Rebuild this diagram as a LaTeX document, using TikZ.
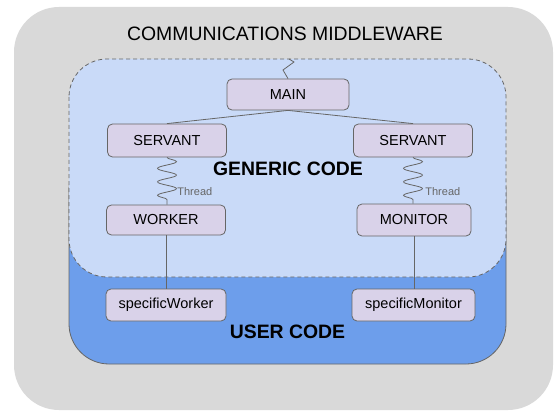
\documentclass[tikz,border=0pt]{standalone}
\usepackage{fontspec}
\setmainfont{Liberation Sans}
\usetikzlibrary{decorations.pathmorphing}
\definecolor{mwgray}{HTML}{D9D9D9}
\definecolor{genblue}{HTML}{C9DAF8}
\definecolor{userblue}{HTML}{6D9EEB}
\definecolor{boxfill}{HTML}{D9D2E9}
\definecolor{edge}{HTML}{666666}

\begin{document}
\begin{tikzpicture}[x=1pt,y=-1pt,line width=0.8pt,
box/.style ={rectangle, draw=edge, fill=boxfill, align=center, rounded corners=5pt, minimum width=119pt, minimum height=32pt, inner sep=0pt, font=\fontsize{14.5}{16}\selectfont},
thr/.style={text=edge, inner sep=0pt, font=\fontsize{11}{13}\selectfont},
area/.style={font=\bfseries\fontsize{19.4}{22}\selectfont, inner sep=0pt},
wave/.style={draw=edge, decorate, decoration={snake, segment length=13.5pt, amplitude=9.5pt}}]

\useasboundingbox (0,0) rectangle (555,412);

% containers
\fill[mwgray, rounded corners=45pt] (14,7) rectangle (553,410);
\draw[edge, fill=userblue, rounded corners=40pt] (69,150) rectangle (506,364);
\draw[edge, fill=genblue, dash pattern=on 4pt off 3pt, rounded corners=38pt] (69,59) rectangle (506,277);

\draw (285,34) node[inner sep=0pt, font=\fontsize{19.4}{22}\selectfont] (Title) {COMMUNICATIONS MIDDLEWARE};
\draw (288,168.5) node[area] (Gen) {GENERIC CODE};
\draw (287.5,332) node[area] (User) {USER CODE};

\draw (288,94.5) node[box, minimum width=122pt, minimum height=31pt] (Main) {MAIN};
\draw (167,140.5) node[box, minimum height=33pt] (SL) {SERVANT};
\draw (413,140.5) node[box, minimum height=33pt] (SR) {SERVANT};
\draw (166,220) node[box, minimum height=30pt] (Wk) {WORKER};
\draw (414,220) node[box, minimum width=114pt] (Mon) {MONITOR};
\draw (166,305) node[box, minimum width=120pt] (SWk) {specificWorker};
\draw (413.5,305) node[box, minimum width=123pt] (SMon) {specificMonitor};
\draw (177,192) node[thr, anchor=west] (T1) {Thread};
\draw (425,192) node[thr, anchor=west] (T2) {Thread};
\coordinate (Top) at (289,59);

\draw[edge] (Top) -- ++(5,3) -- ++(-11,8) -- (Main.north);
\draw[edge] (Main.south) -- (SL.north);
\draw[edge] (Main.south) -- (SR.north);
\draw[wave] (SL.south) -- (SL.south |- Wk.north);
\draw[wave] (SR.south) -- (SR.south |- Mon.north);
\draw[edge] (Wk.south) -- (SWk.north);
\draw[edge] (Mon.south) -- (Mon.south |- SMon.north);

\end{tikzpicture}
\end{document}
